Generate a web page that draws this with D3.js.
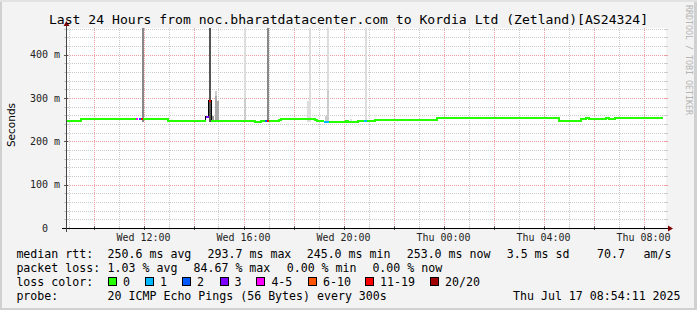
<!DOCTYPE html>
<html>
<head>
<meta charset="utf-8">
<script src="https://cdn.jsdelivr.net/npm/d3@7"></script>
<style>
body { margin: 0; background: #f3f3f3; }
svg text { white-space: pre; }
</style>
</head>
<body>
<svg id="chart" width="697" height="310"></svg>
<script>

// median rtt (ms), one entry per change: [day time, value, loss bucket]
const medianSteps = [
    ["16 08:54", 248, 0],
    ["16 09:30", 251, 0],
    ["16 11:43", 251, 4],
    ["16 11:47", null, null],
    ["16 11:49", 251, 2],
    ["16 11:54", 251, 6],
    ["16 11:59", 251, 0],
    ["16 12:59", 246.5, 0],
    ["16 14:29", 257, 3],
    ["16 14:37", 293.7, 6],
    ["16 14:42", 246.5, 0],
    ["16 16:28", 245, 0],
    ["16 16:41", 246.5, 0],
    ["16 16:52", 246.5, 2],
    ["16 16:57", 246.5, 6],
    ["16 17:02", 246.5, 0],
    ["16 17:25", 249.5, 0],
    ["16 17:30", 251.4, 0],
    ["16 18:52", 249.5, 0],
    ["16 18:57", 246.7, 0],
    ["16 19:14", 245, 1],
    ["16 19:26", 245, 0],
    ["16 20:06", 246.7, 0],
    ["16 20:11", 245, 0],
    ["16 20:35", 246.7, 0],
    ["16 20:48", 246, 1],
    ["16 20:57", 246.7, 0],
    ["16 21:16", 249, 0],
    ["16 23:45", 253, 0],
    ["17 04:25", 254, 0],
    ["17 04:30", 253, 0],
    ["17 04:36", 247.4, 0],
    ["17 05:30", 251.4, 0],
    ["17 05:42", 253.5, 0],
    ["17 05:48", 251.4, 0],
    ["17 06:30", 253.5, 0],
    ["17 06:37", 251.4, 0],
    ["17 06:52", 253, 0],
    ["17 08:46", null, null]
];

// smoke bands: [day time, highest ping (ms), darkness 1..9]
const smoke = [
    ["16 11:56", 470, 6],
    ["16 14:37", 470, 9],
    ["16 14:45", 259, 5],
    ["16 14:51", 316, 2],
    ["16 14:51", 304, 4],
    ["16 14:56", 293, 4],
    ["16 16:00", 470, 1],
    ["16 16:00", 300, 2],
    ["16 16:57", 470, 6],
    ["16 18:32", 293, 1],
    ["16 18:37", 470, 1],
    ["16 19:16", 259, 2],
    ["16 19:20", 470, 1],
    ["16 19:20", 318, 2],
    ["16 20:16", 252, 1],
    ["16 20:52", 470, 1]
];
const smokeFloor = 244;

const lossLabels = ["0", "1", "2", "3", "4-5", "6-10", "11-19", "20/20"];
const lossColors = ["#26ff00", "#00b8ff", "#0059ff", "#7e00ff", "#ff00ff", "#ff5500", "#ff0000", "#a10000"];

const yTicks = [0, 100, 200, 300, 400];
const xLabelTimes = ["16 12:00", "16 16:00", "16 20:00", "17 00:00", "17 04:00", "17 08:00"];

const rttStats = [["250.6 ms", "avg"], ["293.7 ms", "max"], ["245.0 ms", "min"], ["253.0 ms", "now"], ["3.5 ms", "sd"]];
const rttAm = "70.7";
const lossStats = [["1.03 %", "avg"], ["84.67 %", "max"], ["0.00 %", "min"], ["0.00 %", "now"]];
const probeText = "20 ICMP Echo Pings (56 Bytes) every 300s";
const stamp = "Thu Jul 17 08:54:11 2025";
const title = "Last 24 Hours from noc.bharatdatacenter.com to Kordia Ltd (Zetland)[AS24324]";

const T = s => d3.timeParse("%Y-%m-%d %H:%M")("2025-07-" + s);
const stepMs = 5 * 60 * 1000;

const W = 697, H = 310;
const plot = { left: 66, right: 666, top: 28, bottom: 228 };
const mono = "'DejaVu Sans Mono', monospace";

const svg = d3.select("#chart");

// canvas + border
svg.append("rect").attr("width", W).attr("height", H).attr("fill", "#f3f3f3");
svg.append("rect").attr("x", 0).attr("y", 0).attr("width", 2).attr("height", H).attr("fill", "#d0d0d0");
svg.append("rect").attr("x", W - 3).attr("y", 0).attr("width", 3).attr("height", H).attr("fill", "#d0d0d0");
svg.append("rect").attr("x", 0).attr("y", H - 2).attr("width", W).attr("height", 2).attr("fill", "#d0d0d0");
svg.append("rect").attr("x", 0).attr("y", 0).attr("width", W).attr("height", 2).attr("fill", "#e2e2e2");

var x = d3.scaleTime()
    .domain([T("16 08:54"), T("17 08:54")])
    .range([plot.left, plot.right]);
var y = d3.scaleLinear()
    .domain([0, 461.6])
    .range([plot.bottom, plot.top]);

svg.append("rect")
    .attr("x", plot.left).attr("y", plot.top)
    .attr("width", plot.right - plot.left).attr("height", plot.bottom - plot.top)
    .attr("fill", "#fff");

svg.append("clipPath").attr("id", "clip")
    .append("rect")
    .attr("x", plot.left).attr("y", plot.top)
    .attr("width", plot.right - plot.left).attr("height", plot.bottom - plot.top);

// grid
const gridMinor = "#cccccc", gridMajor = "#eaa0a0";
const grid = svg.append("g").attr("shape-rendering", "crispEdges");

const minorY = y.ticks(25).filter(v => v % 100 != 0);
grid.selectAll(".gy").data(minorY).join("line")
    .attr("x1", plot.left).attr("x2", plot.right)
    .attr("y1", d => Math.round(y(d)) + 0.5).attr("y2", d => Math.round(y(d)) + 0.5)
    .attr("stroke", gridMinor).attr("stroke-dasharray", "1,1");
grid.selectAll(".gY").data(yTicks).join("line")
    .attr("x1", plot.left).attr("x2", plot.right)
    .attr("y1", d => Math.round(y(d)) + 0.5).attr("y2", d => Math.round(y(d)) + 0.5)
    .attr("stroke", gridMajor).attr("stroke-dasharray", "1,1");

const hours = x.ticks(d3.timeHour.every(1));
grid.selectAll(".gx").data(hours.filter(d => d.getHours() % 2 == 1)).join("line")
    .attr("x1", d => Math.round(x(d)) + 0.5).attr("x2", d => Math.round(x(d)) + 0.5)
    .attr("y1", plot.top).attr("y2", plot.bottom)
    .attr("stroke", gridMinor).attr("stroke-dasharray", "1,1");
grid.selectAll(".gX").data(hours.filter(d => d.getHours() % 2 == 0)).join("line")
    .attr("x1", d => Math.round(x(d)) + 0.5).attr("x2", d => Math.round(x(d)) + 0.5)
    .attr("y1", plot.top).attr("y2", plot.bottom)
    .attr("stroke", gridMajor).attr("stroke-dasharray", "1,1");

// small ticks at both ends of each grid line
grid.selectAll(".ty").data(minorY.concat(yTicks)).join("line")
    .attr("x1", plot.right - 2).attr("x2", plot.right + 2)
    .attr("y1", d => Math.round(y(d)) + 0.5).attr("y2", d => Math.round(y(d)) + 0.5)
    .attr("stroke", d => d % 100 == 0 ? gridMajor : gridMinor);
grid.selectAll(".ty2").data(minorY.concat(yTicks)).join("line")
    .attr("x1", plot.left - 2).attr("x2", plot.left + 2)
    .attr("y1", d => Math.round(y(d)) + 0.5).attr("y2", d => Math.round(y(d)) + 0.5)
    .attr("stroke", d => d % 100 == 0 ? "#555" : gridMinor);
grid.selectAll(".tx").data(hours).join("line")
    .attr("x1", d => Math.round(x(d)) + 0.5).attr("x2", d => Math.round(x(d)) + 0.5)
    .attr("y1", plot.bottom - 2).attr("y2", plot.bottom + 2)
    .attr("stroke", d => d.getHours() % 2 == 0 ? "#555" : gridMinor);

// smoke
const shade = d3.scaleLinear().domain([1, 9]).range(["#dddddd", "#555555"]);
svg.append("g").attr("clip-path", "url(#clip)").attr("shape-rendering", "crispEdges")
    .selectAll("rect")
    .data(smoke.slice().sort((a, b) => a[2] - b[2]))
    .join("rect")
    .attr("x", d => x(T(d[0])))
    .attr("width", d => x(new Date(+T(d[0]) + stepMs)) - x(T(d[0])))
    .attr("y", d => y(d[1]))
    .attr("height", d => y(smokeFloor) - y(d[1]))
    .attr("fill", d => shade(d[2]));

// median line
const steps = medianSteps.map((d, i) => ({
    t: T(d[0]), v: d[1], loss: d[2],
    next: i < medianSteps.length - 1 ? T(medianSteps[i + 1][0]) : null
})).filter(d => d.v != null);

const runs = key => {
    let out = [];
    steps.forEach((d, i) => {
        const prev = steps[i - 1];
        if (prev && +prev.next == +d.t && key(prev) == key(d)) out[out.length - 1].push(d);
        else out.push([d]);
    });
    return out;
};
const line = d3.line().curve(d3.curveStepAfter);
const runPath = r => line(r.map(d => [x(d.t), y(d.v)]).concat([[x(r[r.length - 1].next), y(r[r.length - 1].v)]]));

const gm = svg.append("g").attr("clip-path", "url(#clip)").attr("fill", "none").attr("shape-rendering", "crispEdges");
gm.selectAll(".mb").data(runs(d => 1)).join("path")
    .attr("d", runPath).attr("stroke", "#000").attr("stroke-width", 1);
gm.selectAll(".mc").data(runs(d => d.loss)).join("path")
    .attr("d", runPath).attr("stroke", r => lossColors[r[0].loss]).attr("stroke-width", 2);

// axes
const ax = svg.append("g").attr("shape-rendering", "crispEdges");
ax.append("line").attr("x1", plot.left - 4).attr("x2", plot.right + 3)
    .attr("y1", plot.bottom + 0.5).attr("y2", plot.bottom + 0.5).attr("stroke", "#000");
ax.append("line").attr("x1", plot.left + 0.5).attr("x2", plot.left + 0.5)
    .attr("y1", plot.bottom + 4).attr("y2", plot.top - 4).attr("stroke", "#444");
svg.append("path")
    .attr("d", `M${plot.right + 2},${plot.bottom - 2.5}L${plot.right + 7},${plot.bottom + 0.5}L${plot.right + 2},${plot.bottom + 3.5}Z`)
    .attr("fill", "#7f0000");
svg.append("path")
    .attr("d", `M${plot.left - 2.5},${plot.top - 2}L${plot.left + 0.5},${plot.top - 7}L${plot.left + 3.5},${plot.top - 2}Z`)
    .attr("fill", "#7f0000");

// tick labels
svg.append("g").selectAll("text").data(yTicks).join("text")
    .attr("x", 60).attr("y", d => y(d) + 3.5)
    .attr("text-anchor", "end")
    .attr("font-family", mono).attr("font-size", 10).attr("fill", "#222")
    .text(d => d == 0 ? "0  " : d + " m");

const fmt = d3.timeFormat("%a %H:%M");
svg.append("g").selectAll("text").data(xLabelTimes).join("text")
    .attr("x", d => x(T(d))).attr("y", 241)
    .attr("text-anchor", "middle")
    .attr("font-family", mono).attr("font-size", 10).attr("fill", "#222")
    .text(d => fmt(T(d)));

// title, unit, watermark
svg.append("text").attr("x", W / 2).attr("y", 23.5).attr("text-anchor", "middle")
    .attr("font-family", mono).attr("font-size", 13.1).attr("fill", "#000").text(title);
svg.append("text").attr("transform", "translate(14.5,125) rotate(-90)").attr("text-anchor", "middle")
    .attr("font-family", "'DejaVu Sans', sans-serif").attr("font-size", 10.5).attr("fill", "#000").text("Seconds");
svg.append("text").attr("transform", "translate(685.5,5) rotate(90)")
    .attr("font-family", mono).attr("font-size", 8.3).attr("fill", "#b4b4b4").text("RRDTOOL / TOBI OETIKER");

// legend
const lg = svg.append("g").attr("font-family", mono).attr("font-size", 11.6).attr("fill", "#000");
const row = [258, 272, 286, 300];
const col = [107.6, 207.6, 306.7, 406.7, 506.7];
const put = (xx, yy, s) => lg.append("text").attr("x", xx).attr("y", yy).text(s);

put(16.4, row[0], "median rtt:");
rttStats.forEach((d, i) => put(col[i], row[0], d[0] + " " + d[1]));
put(597, row[0], rttAm);
put(643.6, row[0], "am/s");

put(16.4, row[1], "packet loss:");
const lossCol = [107.6, 193.5, 286.7, 372.4];
lossStats.forEach((d, i) => put(lossCol[i], row[1], d[0] + " " + d[1]));

put(16.4, row[2], "loss color:");
const boxX = [108, 145, 182, 219.6, 256.4, 308, 365, 430];
lossLabels.forEach((d, i) => {
    lg.append("rect").attr("x", Math.round(boxX[i]) + 0.5).attr("y", row[2] - 8.5)
        .attr("width", 8).attr("height", 8)
        .attr("fill", lossColors[i]).attr("stroke", "#000").attr("shape-rendering", "crispEdges");
    put(boxX[i] + 15, row[2], d);
});

put(16.4, row[3], "probe:");
put(107.6, row[3], probeText);
put(513, row[3], stamp);

</script>
</body>
</html>
